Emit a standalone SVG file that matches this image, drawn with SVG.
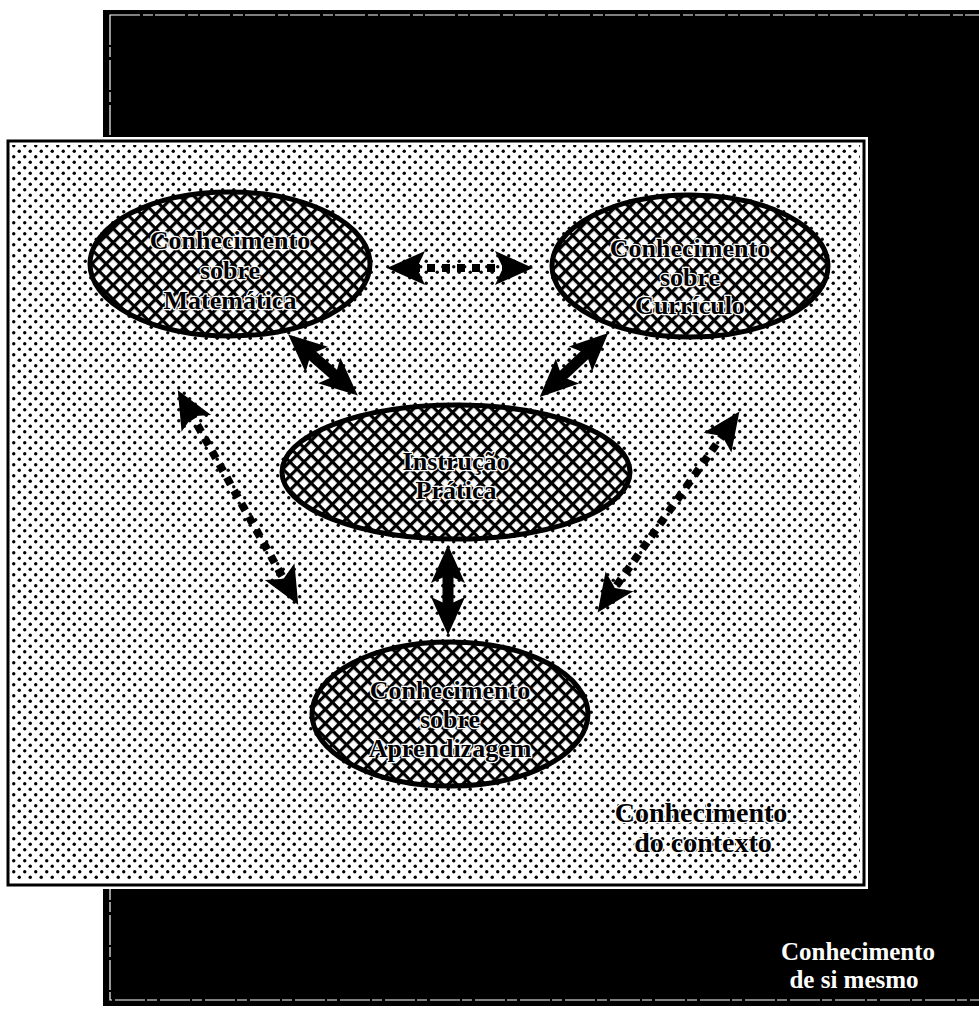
<svg xmlns="http://www.w3.org/2000/svg" width="979" height="1010" viewBox="0 0 979 1010">
<defs>
<pattern id="dots" width="11" height="11" patternUnits="userSpaceOnUse">
<rect width="11" height="11" fill="#fff"/>
<circle cx="2.75" cy="2.75" r="1.7" fill="#000"/>
<circle cx="8.25" cy="8.25" r="1.7" fill="#000"/>
</pattern>
<pattern id="hatch" width="10" height="10" patternUnits="userSpaceOnUse" patternTransform="rotate(45)">
<rect width="10" height="10" fill="#fff"/>
<rect x="0" y="0" width="10" height="3.2" fill="#000"/>
<rect x="0" y="0" width="3.2" height="10" fill="#000"/>
</pattern>
<marker id="head" markerUnits="userSpaceOnUse" markerWidth="80" markerHeight="80" refX="0" refY="0" orient="auto-start-reverse" overflow="visible">
<path d="M25,0 L-13,-17 L-5,0 L-13,17 Z" fill="#000"/>
</marker>
</defs>
<style>
.node ellipse{fill:url(#hatch);stroke:#000;stroke-width:5}
.lbl{font-family:"Liberation Serif",serif;font-weight:bold;font-size:26px;fill:#000;stroke:#fff;stroke-width:2.5;paint-order:stroke;text-anchor:middle}
.solid{stroke:#000;stroke-width:11;fill:none}
.dot{stroke:#000;stroke-width:8;stroke-dasharray:8 7;fill:none}
.cap{font-family:"Liberation Serif",serif;font-weight:bold;text-anchor:middle}
</style>
<g id="self">
<rect x="103" y="10" width="880" height="996" fill="#000"/>
<rect x="110" y="15" width="875" height="985" fill="none" stroke="#fff" stroke-width="1.2" stroke-dasharray="30 3 10 2"/>
<text class="cap" x="858" y="960" font-size="25" fill="#fff">Conhecimento</text>
<text class="cap" x="854" y="988" font-size="25" fill="#fff">de si mesmo</text>
</g>
<g id="context">
<rect x="8" y="141" width="856" height="744" fill="url(#dots)" stroke="#fff" stroke-width="8"/>
<rect x="8" y="141" width="856" height="744" fill="none" stroke="#000" stroke-width="3"/>
<text class="cap" x="701" y="822" font-size="28" fill="#000" stroke="#fff" stroke-width="2.5" paint-order="stroke">Conhecimento</text>
<text class="cap" x="703" y="852" font-size="28" fill="#000" stroke="#fff" stroke-width="2.5" paint-order="stroke">do contexto</text>
</g>
<g id="connectors">
<line class="dot" x1="412" y1="268" x2="508" y2="268" marker-start="url(#head)" marker-end="url(#head)"/>
<line class="solid" x1="307" y1="351" x2="339" y2="379" marker-start="url(#head)" marker-end="url(#head)"/>
<line class="solid" x1="590" y1="350" x2="558" y2="380" marker-start="url(#head)" marker-end="url(#head)"/>
<line class="solid" x1="448" y1="570" x2="448" y2="610" stroke-width="9" marker-start="url(#head)" marker-end="url(#head)"/>
<line class="dot" x1="190" y1="412" x2="286" y2="583" marker-start="url(#head)" marker-end="url(#head)"/>
<line class="dot" x1="725" y1="432" x2="612" y2="592" marker-start="url(#head)" marker-end="url(#head)"/>
</g>
<g id="matematica" class="node">
<ellipse cx="230" cy="264" rx="140" ry="72"/>
<text class="lbl" x="230" y="249">Conhecimento</text>
<text class="lbl" x="230" y="279">sobre</text>
<text class="lbl" x="230" y="309">Matemática</text>
</g>
<g id="curriculo" class="node">
<ellipse cx="690" cy="266" rx="138" ry="71"/>
<text class="lbl" x="690" y="257">Conhecimento</text>
<text class="lbl" x="690" y="286">sobre</text>
<text class="lbl" x="690" y="314">Currículo</text>
</g>
<g id="instrucao" class="node">
<ellipse cx="456" cy="472" rx="174" ry="67"/>
<text class="lbl" x="456" y="470" font-size="24px">Instrução</text>
<text class="lbl" x="456" y="499" font-size="24px">Prática</text>
</g>
<g id="aprendizagem" class="node">
<ellipse cx="450" cy="714" rx="138" ry="72"/>
<text class="lbl" x="450" y="699">Conhecimento</text>
<text class="lbl" x="450" y="728">sobre</text>
<text class="lbl" x="450" y="757">Aprendizagem</text>
</g>
</svg>
